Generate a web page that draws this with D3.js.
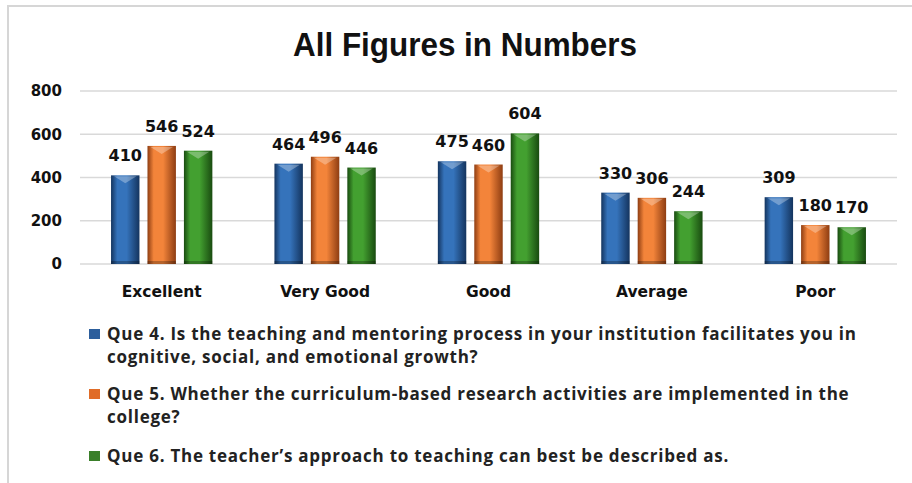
<!DOCTYPE html>
<html>
<head>
<meta charset="utf-8">
<script src="https://cdn.jsdelivr.net/npm/d3@7"></script>
<style>
  body { margin: 0; background: #fff; }
  svg { display: block; }
</style>
</head>
<body>
<div id="chart"></div>
<script>
// chart data
var categories = ["Excellent", "Very Good", "Good", "Average", "Poor"];
var seriesNames = ["Que 4", "Que 5", "Que 6"];
var que4 = [410, 464, 475, 330, 309];
var que5 = [546, 496, 460, 306, 180];
var que6 = [524, 446, 604, 244, 170];
var yTicks = [0, 200, 400, 600, 800];
var legendLines = [
    ["Que 4. Is the teaching and mentoring process in your institution facilitates you in",
     "cognitive, social, and emotional growth?"],
    ["Que 5. Whether the curriculum-based research activities are implemented in the",
     "college?"],
    ["Que 6.  The teacher\u2019s approach to teaching can best be described as."]
];

var svg_w = 912, svg_h = 483;
var colors = [
    {mid: "#3573bb", edge: "#14345e", key: "#2c5e9c"},
    {mid: "#f3843a", edge: "#8e3d12", key: "#e06c28"},
    {mid: "#43a030", edge: "#194b10", key: "#3a7f2a"}
];

var svg = d3.select("#chart")
    .append("svg")
    .attr("width", svg_w)
    .attr("height", svg_h);

// frame
svg.append("path")
    .attr("d", "M8,483 L8,6 L912,6")
    .style("fill", "none")
    .style("stroke", "#d6d6d6")
    .style("stroke-width", 2);

var defs = svg.append("defs");
colors.forEach(function (c, i) {
    var g = defs.append("linearGradient")
        .attr("id", "grad" + i)
        .attr("x1", "0%").attr("x2", "100%")
        .attr("y1", "0%").attr("y2", "0%");
    g.append("stop").attr("offset", "0%").attr("stop-color", c.edge);
    g.append("stop").attr("offset", "22%").attr("stop-color", c.mid);
    g.append("stop").attr("offset", "55%").attr("stop-color", c.mid);
    g.append("stop").attr("offset", "100%").attr("stop-color", c.edge);
});

svg.append("text")
    .attr("x", 465)
    .attr("y", 56)
    .attr("text-anchor", "middle")
    .attr("textLength", 344)
    .attr("lengthAdjust", "spacingAndGlyphs")
    .style("font-family", "'Liberation Sans', Arial, sans-serif")
    .style("font-weight", "bold")
    .style("font-size", "33px")
    .style("fill", "#111")
    .text("All Figures in Numbers");

var x0 = d3.scaleBand()
    .domain(categories)
    .range([80, 897])
    .paddingInner(0.38)
    .paddingOuter(0.19);

var x1 = d3.scaleBand()
    .domain(seriesNames)
    .range([0, x0.bandwidth()])
    .paddingInner(0.22);

var y = d3.scaleLinear()
    .domain([0, 800])
    .range([264, 91]);

// gridlines
svg.append("g")
    .selectAll("line")
    .data(yTicks)
    .enter()
    .append("line")
    .attr("x1", 80)
    .attr("x2", 897)
    .attr("y1", function (d) { return y(d); })
    .attr("y2", function (d) { return y(d); })
    .style("stroke", "#d9d9d9")
    .style("stroke-width", 1.5);

var yAxis = svg.append("g")
    .attr("transform", "translate(62,0)")
    .call(d3.axisLeft(y).tickValues(yTicks).tickSize(0).tickPadding(0));
yAxis.select(".domain").remove();
yAxis.selectAll("text")
    .style("font-family", "'DejaVu Sans', sans-serif")
    .style("font-weight", "bold")
    .style("font-size", "15px")
    .style("fill", "#111");

var xAxis = svg.append("g")
    .attr("transform", "translate(0,264)")
    .call(d3.axisBottom(x0).tickSize(0).tickPadding(0));
xAxis.select(".domain").remove();
xAxis.selectAll("text")
    .attr("dy", "0")
    .attr("y", 33)
    .style("font-family", "'DejaVu Sans', sans-serif")
    .style("font-weight", "bold")
    .style("font-size", "15.5px")
    .style("fill", "#111");

var table = categories.map(function (c, i) {
    return {cat: c, vals: [que4[i], que5[i], que6[i]]};
});

var groups = svg.append("g")
    .selectAll("g")
    .data(table)
    .enter()
    .append("g")
    .attr("transform", function (d) { return "translate(" + x0(d.cat) + ",0)"; });

var bars = groups.selectAll("g.bar")
    .data(function (d) {
        return d.vals.map(function (v, i) { return {s: seriesNames[i], i: i, v: v}; });
    })
    .enter()
    .append("g")
    .attr("class", "bar");

bars.append("rect")
    .attr("x", function (d) { return x1(d.s); })
    .attr("y", function (d) { return y(d.v); })
    .attr("width", x1.bandwidth())
    .attr("height", function (d) { return y(0) - y(d.v); })
    .style("fill", function (d) { return "url(#grad" + d.i + ")"; });

// little bevel highlight at the top of each bar
bars.append("path")
    .attr("d", function (d) {
        var bx = x1(d.s), bw = x1.bandwidth(), ty = y(d.v);
        return "M" + (bx + 3) + "," + (ty + 1) + " L" + (bx + bw - 3) + "," + (ty + 1) +
            " L" + (bx + bw / 2) + "," + (ty + 8) + " Z";
    })
    .style("fill", "#fff")
    .style("opacity", 0.3);

bars.append("rect")
    .attr("x", function (d) { return x1(d.s); })
    .attr("y", y(0) - 3)
    .attr("width", x1.bandwidth())
    .attr("height", 3)
    .style("fill", "#000")
    .style("opacity", 0.25);

bars.append("text")
    .attr("x", function (d) { return x1(d.s) + x1.bandwidth() / 2; })
    .attr("y", function (d) { return y(d.v) - 14; })
    .attr("text-anchor", "middle")
    .style("font-family", "'DejaVu Sans', sans-serif")
    .style("font-weight", "bold")
    .style("font-size", "16px")
    .style("fill", "#111")
    .text(function (d) { return d.v; });

// legend
var legendTop = [340, 400, 462];
var legend = svg.append("g")
    .selectAll("g")
    .data(legendLines)
    .enter()
    .append("g");

legend.append("rect")
    .attr("x", 89)
    .attr("y", function (d, i) { return legendTop[i] - 11; })
    .attr("width", 11)
    .attr("height", 10)
    .style("fill", function (d, i) { return colors[i].key; });

legend.each(function (lines, i) {
    var t = d3.select(this).append("text")
        .attr("x", 107)
        .attr("y", legendTop[i])
        .style("font-family", "'Open Sans', sans-serif")
        .style("font-weight", "bold")
        .style("font-size", "17px")
        .style("letter-spacing", "0.75px")
        .style("fill", "#222");
    lines.forEach(function (l, j) {
        t.append("tspan")
            .attr("x", 107)
            .attr("dy", j === 0 ? 0 : 23)
            .text(l);
    });
});
</script>
</body>
</html>
